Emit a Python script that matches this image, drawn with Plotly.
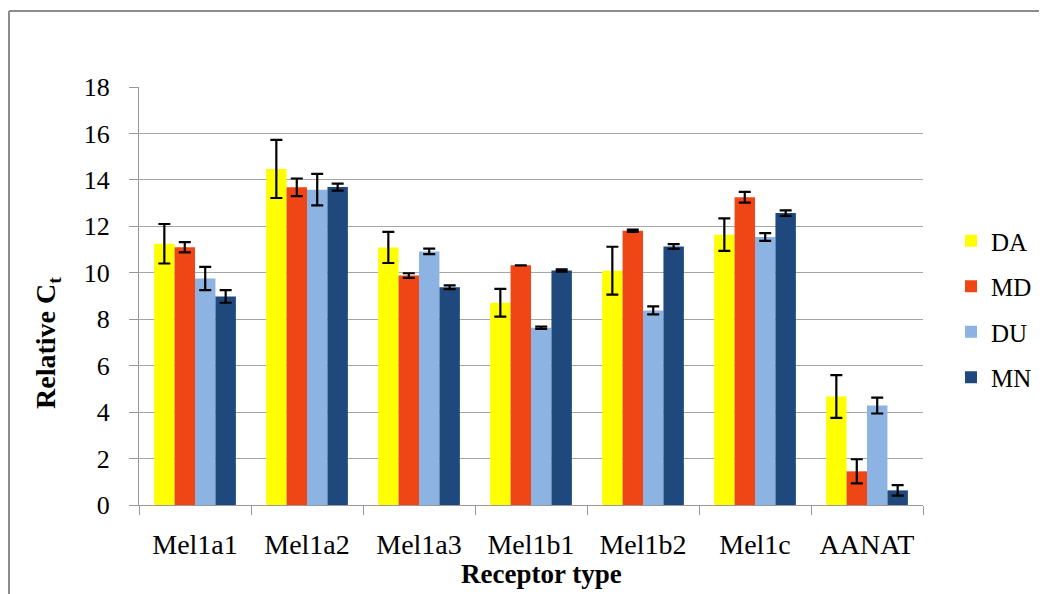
import plotly.graph_objects as go

categories = ["Mel1a1", "Mel1a2", "Mel1a3", "Mel1b1", "Mel1b2", "Mel1c", "AANAT"]
series_names = ["DA", "MD", "DU", "MN"]
DA = [11.25, 14.47, 11.09, 8.71, 10.09, 11.64, 4.67]
MD = [11.10, 13.68, 9.88, 10.32, 11.81, 13.25, 1.45]
DU = [9.75, 13.58, 10.92, 7.63, 8.38, 11.54, 4.28]
MN = [8.98, 13.69, 9.38, 10.10, 11.13, 12.57, 0.63]
DA_err = [0.85, 1.25, 0.67, 0.60, 1.03, 0.70, 0.92]
MD_err = [0.22, 0.38, 0.10, 0.0, 0.05, 0.23, 0.52]
DU_err = [0.50, 0.68, 0.12, 0.05, 0.17, 0.17, 0.34]
MN_err = [0.27, 0.15, 0.08, 0.05, 0.10, 0.12, 0.23]
colors = ["#FFFF00", "#F04616", "#8DB3E2", "#1F497D"]
y_ticks = [0, 2, 4, 6, 8, 10, 12, 14, 16, 18]
x_title = "<b>Receptor type</b>"
y_title = "<b>Relative C<sub>t</sub></b>"

values = [DA, MD, DU, MN]
errors = [DA_err, MD_err, DU_err, MN_err]

fig = go.Figure()
for name, vals, errs, col in zip(series_names, values, errors, colors):
    fig.add_trace(go.Bar(
        x=categories, y=vals, name=name, legendgroup=name,
        marker=dict(color=col, line=dict(width=0)),
        error_y=dict(type="data", array=errs, visible=True, color="black",
                     thickness=2.2, width=6),
    ))

W, H = 1047, 594
OFF = 8  # page body margin
L, R, T, B = 139 - OFF, 923 - OFF, 87 - OFF, 505 - OFF
pw, ph = R - L, B - T

def px(x):
    return (x - OFF - L) / pw

def py(y):
    return (B - (y - OFF)) / ph

font = "'Liberation Serif', 'Times New Roman', serif"
fig.update_layout(
    width=W, height=H,
    margin=dict(l=L, r=W - R, t=T, b=H - B),
    paper_bgcolor="white", plot_bgcolor="white",
    barmode="group", bargap=0.27, bargroupgap=0.0,
    font=dict(family=font, color="black", size=24),
    legend=dict(x=px(951), y=py(218), xanchor="left", yanchor="top",
                font=dict(size=25, family=font), tracegroupgap=10,
                itemwidth=30, bgcolor="rgba(0,0,0,0)"),
    xaxis=dict(
        type="category", tickson="boundaries", ticks="outside", ticklen=9,
        tickcolor="#999999", showline=True, linecolor="#999999", linewidth=1,
        tickfont=dict(size=28, family=font), showgrid=False, ticklabelstandoff=14,
    ),
    yaxis=dict(
        range=[0, 18], tickvals=y_ticks, ticks="outside", ticklen=9,
        tickcolor="#999999", showline=True, linecolor="#999999", linewidth=1,
        showgrid=True, gridcolor="#A6A6A6", gridwidth=1.2, zeroline=False,
        tickfont=dict(size=26, family=font), ticklabelstandoff=14,
    ),
    annotations=[
        dict(text=x_title, xref="paper", yref="paper", x=px(541), y=py(574),
             xanchor="center", yanchor="middle", showarrow=False,
             font=dict(size=27, family=font, color="black")),
        dict(text=y_title, xref="paper", yref="paper", x=px(47), y=py(343),
             xanchor="center", yanchor="middle", showarrow=False, textangle=-90,
             font=dict(size=28, family=font, color="black")),
    ],
    shapes=[
        dict(type="line", xref="paper", yref="paper", x0=px(OFF + 1), x1=px(1070),
             y0=py(11), y1=py(11), line=dict(color="#8C8C8C", width=2)),
        dict(type="line", xref="paper", yref="paper", x0=px(OFF + 1), x1=px(OFF + 1),
             y0=py(11), y1=py(610), line=dict(color="#8C8C8C", width=2)),
    ],
)

fig.write_html("out.html")
